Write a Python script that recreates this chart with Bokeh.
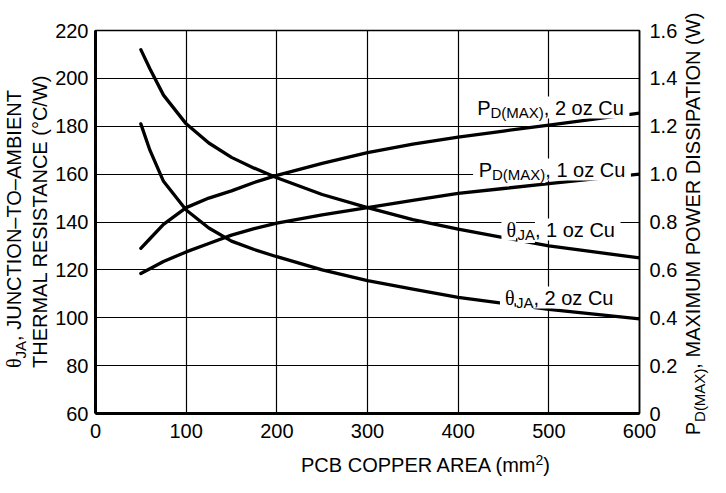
from bokeh.plotting import figure
from bokeh.layouts import row, column
from bokeh.models import Range1d, LinearAxis, FixedTicker, Label, Div
from bokeh.embed import file_html
from bokeh.resources import INLINE

# ---------------- data ----------------
area = [50, 60, 75, 100, 125, 150, 175, 200, 250, 300, 350, 400, 450, 500, 550, 600]
theta_1oz = [212, 204, 193, 181, 173, 167, 162.5, 158.5, 151.5, 146, 141, 137, 133.5, 130, 127.5, 125]
theta_2oz = [181, 170, 157, 145, 137.5, 132, 128.5, 125.5, 120, 115.5, 112, 108.5, 106, 103.5, 101.5, 99.5]
pd_2oz = [0.69, 0.73, 0.79, 0.86, 0.90, 0.93, 0.965, 0.995, 1.045, 1.09, 1.125, 1.155, 1.18, 1.205, 1.23, 1.255]
pd_1oz = [0.585, 0.605, 0.635, 0.675, 0.71, 0.745, 0.772, 0.795, 0.83, 0.86, 0.89, 0.92, 0.94, 0.96, 0.98, 1.0]

x_ticks = [0, 100, 200, 300, 400, 500, 600]
left_ticks = [60, 80, 100, 120, 140, 160, 180, 200, 220]
right_ticks = [0, 0.2, 0.4, 0.6, 0.8, 1.0, 1.2, 1.4, 1.6]
right_tick_labels = ["0", "0.2", "0.4", "0.6", "0.8", "1.0", "1.2", "1.4", "1.6"]

x_title = ("PCB COPPER AREA (mm", "2", ")")
left_title_1 = ("θ", "JA", ", JUNCTION–TO–AMBIENT")
left_title_2 = "THERMAL RESISTANCE (°C/W)"
right_title = ("P", "D(MAX)", ", MAXIMUM POWER DISSIPATION (W)")

FONT = "Liberation Sans"
SYM = "Liberation Serif"
MAIN, SUB = 20, 15
NB = "\u00a0"

# ---------------- page geometry (canvas px) ----------------
CW, CH = 710, 477          # whole drawing
LW, RW, BH = 52, 30, 27    # strips holding the axis titles
PW, PH = CW - LW - RW, CH - BH

X0, X1, Y0, Y1 = 0, 600, 60, 220
p = figure(width=PW, height=PH, output_backend="svg", toolbar_location=None,
           x_range=Range1d(X0, X1), y_range=Range1d(Y0, Y1),
           min_border_left=95 - LW, min_border_right=CW - RW - 642, min_border_top=30,
           min_border_bottom=PH - 413,
           background_fill_color="white", border_fill_color="white")
p.title.visible = False
p.extra_y_ranges = {"pd": Range1d(0, 1.6)}

p.outline_line_color = "black"
p.outline_line_width = 1.5

for ax in (p.xaxis[0], p.yaxis[0]):
    ax.axis_line_color = "black"
    ax.axis_line_width = 3
    ax.major_tick_in = 0
    ax.major_tick_out = 0
    ax.minor_tick_in = 0
    ax.minor_tick_out = 0
    ax.major_label_text_font = FONT
    ax.major_label_text_font_size = "20px"
    ax.major_label_text_color = "black"
p.xaxis[0].ticker = FixedTicker(ticks=x_ticks)
p.yaxis[0].ticker = FixedTicker(ticks=left_ticks)
p.xaxis[0].major_label_standoff = 10
p.yaxis[0].major_label_standoff = 7

ax_r = LinearAxis(y_range_name="pd", ticker=FixedTicker(ticks=right_ticks),
                  major_label_overrides=dict(zip(right_ticks, right_tick_labels)))
ax_r.axis_line_color = "black"
ax_r.axis_line_width = 1.5
ax_r.major_tick_in = 0
ax_r.major_tick_out = 0
ax_r.minor_tick_in = 0
ax_r.minor_tick_out = 0
ax_r.major_label_text_font = FONT
ax_r.major_label_text_font_size = "20px"
ax_r.major_label_text_color = "black"
ax_r.major_label_standoff = 10
p.add_layout(ax_r, "right")

p.xgrid.ticker = FixedTicker(ticks=x_ticks)
p.ygrid.ticker = FixedTicker(ticks=left_ticks)
for g in (p.xgrid[0], p.ygrid[0]):
    g.grid_line_color = "black"
    g.grid_line_width = 1.2
    g.grid_line_alpha = 1.0

lw = 3.3
p.line(area, theta_1oz, line_width=lw, color="black", line_cap="round", line_join="round")
p.line(area, theta_2oz, line_width=lw, color="black", line_cap="round", line_join="round")
p.line(area, pd_2oz, y_range_name="pd", line_width=lw, color="black", line_cap="round", line_join="round")
p.line(area, pd_1oz, y_range_name="pd", line_width=lw, color="black", line_cap="round", line_join="round")

# ---------------- curve labels (sub-scripted, white background) ----------------
W = {' ': 278, NB: 278, ',': 278, '(': 333, ')': 333, '–': 556, '°': 400, '/': 278, 'θ': 520,
     'A': 667, 'B': 667, 'C': 722, 'D': 722, 'E': 667, 'F': 611, 'G': 778, 'H': 722,
     'I': 278, 'J': 500, 'K': 667, 'L': 556, 'M': 833, 'N': 722, 'O': 778, 'P': 667,
     'Q': 778, 'R': 722, 'S': 667, 'T': 611, 'U': 722, 'V': 667, 'W': 944, 'X': 667,
     'Y': 667, 'Z': 611, 'a': 556, 'c': 500, 'm': 833, 'o': 556, 'u': 556, 'z': 500}


def tw(s, size):
    return sum(W.get(c, 556) for c in s) * size / 1000.0


def total(pieces):
    return sum(tw(pc[0], pc[1]) for pc in pieces)


FX, FY = 103, 421  # page position of the frame's bottom-left corner
pd2 = [(NB + "P", MAIN, 0, FONT), ("D(MAX)", SUB, -5, FONT), (", 2 oz Cu" + NB, MAIN, 0, FONT)]
pd1 = [(NB + "P", MAIN, 0, FONT), ("D(MAX)", SUB, -5, FONT), (", 1 oz Cu" + NB, MAIN, 0, FONT)]
th1 = [(NB + "θ", MAIN, 0, SYM), ("JA", SUB, -5, FONT), (", 1 oz Cu" + NB, MAIN, 0, FONT)]
th2 = [(NB + "θ", MAIN, 0, SYM), ("JA", SUB, -5, FONT), (", 2 oz Cu" + NB, MAIN, 0, FONT)]
for pieces, cx, base in ((pd2, 558, 115), (pd1, 559.5, 177), (th1, 568.5, 237), (th2, 567, 305)):
    x = cx - FX - total(pieces) / 2
    for text, size, shift, font in pieces:
        p.add_layout(Label(x=X0, y=Y0, x_offset=x, y_offset=FY - base + shift, text=text,
                           text_font=font, text_font_size=f"{size}px", text_color="black",
                           text_align="left", text_baseline="alphabetic",
                           background_fill_color="white"))
        x += tw(text, size)

# ---------------- axis titles as HTML strips ----------------
BASE = (f"font-family:'{FONT}';font-size:{MAIN}px;color:black;line-height:24px;"
        "white-space:nowrap;position:absolute;")
SUBSTYLE = f"font-size:{SUB}px;position:relative;top:5px;"
SUPSTYLE = "font-size:14px;position:relative;top:-7px;"


def box(w, h, inner):
    return (f'<div style="position:relative;width:{w}px;height:{h}px;overflow:visible;">'
            f'{inner}</div>')


left_html = box(LW, PH,
                f'<div style="{BASE}left:2px;top:{376 - 8}px;transform-origin:0 0;'
                f'transform:rotate(-90deg);text-align:left;">'
                f'<span style="font-family:\'{SYM}\'">{left_title_1[0]}</span>'
                f'<span style="{SUBSTYLE}">{left_title_1[1]}</span>{left_title_1[2]}'
                f'<br>{left_title_2}</div>')
right_html = box(RW, PH,
                 f'<div style="{BASE}left:1px;top:{232 - 8 + 225}px;width:450px;'
                 f'transform-origin:0 0;transform:rotate(-90deg);text-align:center;">'
                 f'{right_title[0]}<span style="{SUBSTYLE}">{right_title[1]}</span>'
                 f'{right_title[2]}</div>')
bottom_html = box(CW, BH,
                  f'<div style="{BASE}left:{433.5 - 8 - 200}px;top:3px;width:400px;'
                  f'text-align:center;">{x_title[0]}<span style="{SUPSTYLE}">{x_title[1]}</span>'
                  f'{x_title[2]}</div>')

left = Div(text=left_html, width=LW, height=PH, margin=0)
right = Div(text=right_html, width=RW, height=PH, margin=0)
bottom = Div(text=bottom_html, width=CW, height=BH, margin=0)

layout = column(row(left, p, right, spacing=0), bottom, spacing=0)
open("out.html", "w").write(file_html(layout, INLINE))
